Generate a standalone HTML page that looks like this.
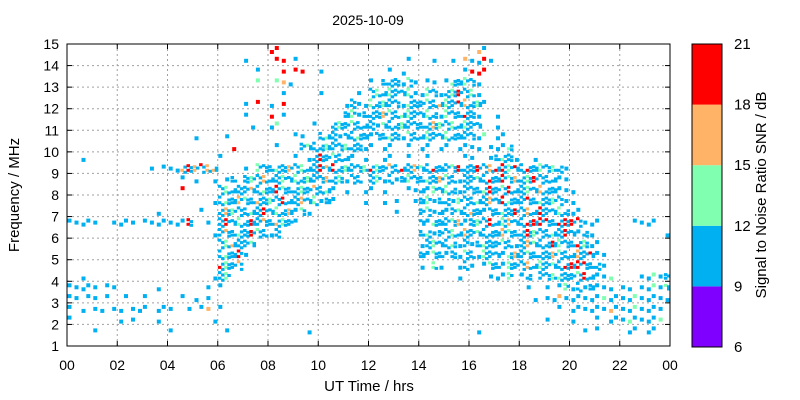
<!DOCTYPE html>
<html><head><meta charset="utf-8"><style>
html,body{margin:0;padding:0;background:#fff;}
svg{display:block;font-family:"Liberation Sans",Arial,sans-serif;}
</style></head><body>
<svg id="chart" width="800" height="400" viewBox="0 0 800 400" xmlns="http://www.w3.org/2000/svg">
<text x="368" y="25" font-size="14" text-anchor="middle">2025-10-09</text>
<g id="grid"></g>
<g id="marks"></g>
<g id="axes"></g>
<text x="369" y="391" font-size="15" text-anchor="middle">UT Time / hrs</text>
<text transform="translate(19,195) rotate(-90)" font-size="15" text-anchor="middle">Frequency / MHz</text>
<g id="cbar"></g>
<text transform="translate(766,195) rotate(-90)" font-size="15" text-anchor="middle">Signal to Noise Ratio SNR / dB</text>
</svg>
<script>
// ---- data ----
const xTickLabels = ["00","02","04","06","08","10","12","14","16","18","20","22","00"];
const xTickHours = [0,2,4,6,8,10,12,14,16,18,20,22,24];
const yTicks = [1,2,3,4,5,6,7,8,9,10,11,12,13,14,15];
const cbarTicks = [6,9,12,15,18,21];
const cbarColors = ["#8000ff","#00b0f0","#80ffb0","#ffb366","#ff0000"];
const cellHours = 0.25;
const cellMHz = 0.5;
const topMHz = 15;
// rows from 15 MHz downward, 0.5 MHz each; 24 hour groups of 4 quarter-hour cells
// '.' none, lowercase = sparse, uppercase = dense; b=9-12dB g=12-15 o=15-18 r=18-21
const rowsSNR = [
"....|....|....|....|....|....|....|....|rr..|....|....|....|....|....|....|....|.ob.|....|....|....|....|....|....|....",
"....|....|....|....|....|....|....|b...|.rr.|b...|....|....|....|..b.|..b.|.b.o|bbrb|....|....|....|....|....|....|....",
"....|....|....|....|....|....|....|..b.|..r.|rr..|b...|....|...b|.b..|....|...b|rrr.|....|....|....|....|....|....|....",
"....|....|....|....|....|....|....|..g.|.gob|....|....|....|b.BB|BbGb|.bb.|bGBG|Bb..|....|....|....|....|....|....|....",
"....|....|....|....|....|....|....|....|..b.|....|b...|..b.|BGBG|BBGb|bGBb|BGRB|Gb..|....|....|....|....|....|....|....",
"....|....|....|....|....|....|....|b.r.|b.r.|....|....|bBbb|GBGB|BbGB|BGBO|GBRO|BGb.|....|....|....|....|....|....|....",
"....|....|....|....|....|....|....|b...|r.b.|....|....|BGbB|BBOG|BGGB|BGBb|GBBR|Bb..|b...|....|....|....|....|....|....",
"....|....|....|....|....|....|....|.b..|bg..|...b|..BG|BGBB|BbGB|BGBB|BBOG|BGBG|BB..|b...|....|....|....|....|....|....",
"....|....|....|....|....|b...|.b..|....|....|bb..|BGBb|BBGB|bBBG|BbGB|BGBB|GBBB|Bbg.|bb..|....|....|....|....|....|....",
"....|....|....|....|....|....|..r.|....|.b..|.BGB|BGBB|GBBb|b.bb|..b.|bb.b|b.bb|bb.b|bbG.|....|....|....|....|....|....",
"..b.|....|....|....|....|....|b...|....|....|b.bB|RBGB|Bb.b|..bb|..b.|.b..|...b|b..b|BGBb|..b.|....|....|....|....|....",
"....|....|....|.b.b|bbOR|OROO|....|b.GB|BGBO|BGBB|RORB|GBBG|RGBO|BRBO|GBRB|BGRB|BRBO|RRGR|BRBG|BGBb|....|....|....|....",
"....|....|....|....|..b.|b..b|.bB.|BGBO|BBGB|GBGB|BOBG|bBB.|BGbB|bBGB|BGBO|GBbB|BGBR|BRGO|BGRB|BBbb|....|....|....|....",
"....|....|....|....|..r.|....|BGBB|BOBG|BRGB|BGBO|BGb.|b..b|b.b.|..bb|BbGB|GBbB|BBGR|BGRB|BGBO|BBbb|b...|....|....|....",
"....|....|....|....|....|...b|BGBO|GBOB|GBRB|BOBG|bBb.|...b|..b.|b..b|BGbB|BbGB|BGBO|BRGB|BRBG|BGBb|b...|....|....|....",
"....|....|....|..b.|....|.b..|BOGB|BGBR|BGBO|bGb.|....|....|....|b...|BGbB|bBGB|OBbB|BGBR|BOBR|BBGB|bb..|....|....|....",
"bbbb|b..b|bbb.|bbbb|bbbR|..b.|BRBG|BRBO|BOGB|b...|....|....|....|....|BbGB|BGOb|BGBR|BGOB|BRRR|RBRR|RRbb|b...|..bb|bb..",
"....|....|....|....|....|...b|BOBG|BRGB|bB..|....|....|....|....|....|BGbB|BGBO|BGBB|BOGB|BRGB|BGBR|BbBb|....|....|...b",
"....|....|....|....|....|....|BGOB|BG..|....|....|....|....|....|....|bBGB|BGbB|bBGB|BGBb|BOGB|BRGB|BRGb|b...|....|....",
"....|....|....|....|....|....|BGBR|b...|....|....|....|....|....|....|BbGB|bBbG|BbGB|BbGO|BGBB|BOGB|BOBR|bb..|....|....",
"....|....|....|....|....|....|RGBO|....|....|....|....|....|....|....|b.Gb|..bB|b.bG|BbGB|BOBG|BGBR|RRRB|Bb..|....|....",
"..b.|....|....|....|....|...b|BG..|....|....|....|....|....|....|....|....|..b.|...b|bbG.|bB.B|BGGB|BGRB|bbg.|...b|bgbB",
"bbbb|b.bb|....|..b.|....|..b.|b...|....|....|....|....|....|....|....|....|....|....|....|.b..|b.bG|bBbB|bbb.|bb.b|bgbG",
"bb.b|b.b.|.b..|b...|..b.|b.b.|....|....|....|....|....|....|....|....|....|....|....|....|..b.|bbob|bbbb|bgbb|bbgb|bbbb",
"b.b.|bb.b|b.bb|b.bb|b..b|.bo.|b...|....|....|....|....|....|....|....|....|....|....|....|....|..b.|bbbb|bbob|bbgb|bbb.",
"b...|....|b.b.|..b.|....|...b|....|....|....|....|....|....|....|....|....|....|....|....|....|b...|b...|b.bb|bgbb|bbg.",
"....|b...|....|....|b...|....|.b..|....|....|..b.|....|....|....|....|....|....|.b..|....|....|....|..b.|b...|.bb.|bb..",
"....|....|....|....|....|....|....|....|....|....|....|....|....|....|....|....|....|....|....|....|....|....|....|...."
];
// ---- scales ----
const PX0=67, PX1=670, PY0=44, PY1=346;
function xs(h){return PX0+(h/24)*(PX1-PX0);}
function ys(f){return PY1-(f-1)/14*(PY1-PY0);}
const CB0=692, CB1=722;
function cs(v){return PY1+1-(v-6)/15*(PY1-PY0+1);}
const NS="http://www.w3.org/2000/svg";
function mk(tag,attrs,parent){const e=document.createElementNS(NS,tag);for(const k in attrs)e.setAttribute(k,attrs[k]);parent.appendChild(e);return e;}
const grid=document.getElementById('grid'),axes=document.getElementById('axes'),marks=document.getElementById('marks'),cbar=document.getElementById('cbar');
yTicks.forEach(f=>{
  if(f>1&&f<15){const l=mk('line',{x1:PX0,x2:PX1,y1:ys(f),y2:ys(f),stroke:'#a0a0a0','stroke-dasharray':'2,3','stroke-width':1},grid);
  
  }
  const t=mk('text',{x:PX0-8,y:ys(f)+5,'font-size':14,'text-anchor':'end'},axes);t.textContent=f;
  
  
  mk('line',{x1:PX0,x2:PX0+5,y1:ys(f),y2:ys(f),stroke:'#000'},axes);
  mk('line',{x1:PX1,x2:PX1-5,y1:ys(f),y2:ys(f),stroke:'#000'},axes);
});
xTickHours.forEach((h,i)=>{
  if(h>0&&h<24){const l=mk('line',{x1:xs(h),x2:xs(h),y1:PY0,y2:PY1,stroke:'#a0a0a0','stroke-dasharray':'2,3','stroke-width':1},grid);
  
  }
  const t=mk('text',{x:xs(h),y:370,'font-size':14,'text-anchor':'middle'},axes);t.textContent=xTickLabels[i];
  
  
  mk('line',{x1:xs(h),x2:xs(h),y1:PY1,y2:PY1-5,stroke:'#000'},axes);
  mk('line',{x1:xs(h),x2:xs(h),y1:PY0,y2:PY0+5,stroke:'#000'},axes);
});
const fr=mk('rect',{x:PX0,y:PY0,width:PX1-PX0,height:PY1-PY0,fill:'none',stroke:'#000','stroke-width':1},axes);


const colorOf={b:cbarColors[1],g:cbarColors[2],o:cbarColors[3],r:cbarColors[4]};
const cw=xs(cellHours)-xs(0), ch=ys(topMHz-cellMHz)-ys(topMHz);
rowsSNR.forEach((row,r)=>{
  const cells=row.split('|').map(g=>(g+'....').slice(0,4)).join('');
  const fTop=topMHz-r*cellMHz;
  for(let i=0;i<cells.length;i++){
    const c=cells[i]; if(c==='.')continue;
    const x=xs(i*cellHours), y=ys(fTop);
    const lc=c.toLowerCase(), col=colorOf[lc]||cbarColors[1];
    const jit=((i*7+r*3)%3);
    if(c===lc){
      const m=mk('rect',{x:(x+0.5+jit*0.7).toFixed(1),y:(y+2+jit*2).toFixed(1),width:4,height:4,fill:col},marks);
      
      
    } else {
      const subs=[[0.2,0.6+jit],[3.3,3+jit*0.5],[0.2,6.2],[3.3,8.2-jit]];
      subs.forEach((s,k)=>{
        if((i+r+k)%5===4) return;
        const sc=(k%2===0)?col:cbarColors[1];
        const m=mk('rect',{x:(x+s[0]).toFixed(1),y:(y+s[1]).toFixed(1),width:3.5,height:3,fill:sc},marks);
        
        
      });
    }
  }
});
cbarColors.forEach((c,i)=>{
  const r=mk('rect',{x:CB0,y:cs(cbarTicks[i+1]),width:CB1-CB0,height:cs(cbarTicks[i])-cs(cbarTicks[i+1]),fill:c},cbar);
  
  
});
mk('rect',{x:CB0,y:cs(21),width:CB1-CB0,height:cs(6)-cs(21),fill:'none',stroke:'#000'},cbar);
cbarTicks.forEach(v=>{
  const t=mk('text',{x:CB1+12,y:cs(v)+5,'font-size':15},cbar);t.textContent=v;
  
  
});
</script>
</body></html>
